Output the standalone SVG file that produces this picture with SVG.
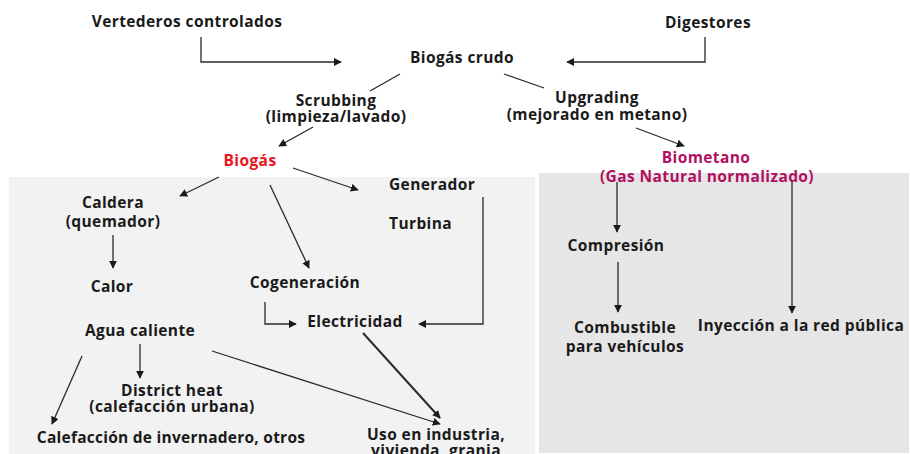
<svg xmlns="http://www.w3.org/2000/svg" width="910" height="454" viewBox="0 0 910 454">
<defs>
<marker id="ah" viewBox="0 0 10 10" refX="9" refY="5" markerWidth="8" markerHeight="8" markerUnits="userSpaceOnUse" orient="auto">
<path d="M0,0 L10,5 L0,10 z" fill="#1a1a1a"/>
</marker>
<style>
text{font-family:"Open Sans","Liberation Sans",Arial,sans-serif;font-weight:bold;font-size:15.5px;letter-spacing:0.4px;fill:#1a1a1a}
.c{text-anchor:middle}
.red{fill:#e8141b}
.pur{fill:#b0105e}
.ln{fill:none;stroke:#2a2a2a;stroke-width:1.3}
.ar{marker-end:url(#ah)}
</style>
</defs>
<rect width="910" height="454" fill="#ffffff"/>
<rect id="panel-left" x="9" y="177" width="526" height="277" fill="#f2f2f2"/>
<rect id="panel-right" x="539" y="173" width="370" height="280" fill="#e6e6e6"/>
<g id="connectors">
<polyline class="ln ar" points="201,37 201,62 341,62"/>
<polyline class="ln ar" points="705,37 705,62 567,62"/>
<line class="ln" x1="400" y1="74" x2="370" y2="91"/>
<line class="ln ar" x1="313" y1="127" x2="279" y2="146"/>
<line class="ln" x1="504" y1="74" x2="544" y2="88"/>
<line class="ln ar" x1="636" y1="128" x2="684" y2="146"/>
<line class="ln ar" x1="219" y1="177" x2="180" y2="196"/>
<line class="ln ar" x1="270" y1="185" x2="309" y2="268"/>
<line class="ln ar" x1="293" y1="168" x2="358" y2="190"/>
<polyline class="ln ar" points="483,197 483,324 419,324"/>
<line class="ln ar" x1="113" y1="235" x2="113" y2="268"/>
<polyline class="ln ar" points="265,302 265,324 296,324"/>
<line class="ln ar" x1="140" y1="344" x2="140" y2="378"/>
<line class="ln ar" x1="82" y1="356" x2="52" y2="424"/>
<line class="ln ar" x1="212" y1="351" x2="440" y2="424"/>
<line class="ln ar" x1="363" y1="333" x2="440" y2="418" style="stroke-width:2"/>
<line class="ln ar" x1="617" y1="182" x2="617" y2="232"/>
<line class="ln ar" x1="618" y1="262" x2="618" y2="312"/>
<line class="ln ar" x1="792" y1="180" x2="792" y2="313"/>
</g>
<g id="vertederos"><text x="187" y="27" class="c">Vertederos controlados</text></g>
<g id="digestores"><text x="708" y="28" class="c">Digestores</text></g>
<g id="biogas-crudo"><text x="462" y="63" class="c">Biogás crudo</text></g>
<g id="scrubbing"><text class="c"><tspan x="336" y="106">Scrubbing</tspan><tspan x="336" y="122">(limpieza/lavado)</tspan></text></g>
<g id="upgrading"><text class="c"><tspan x="597" y="103">Upgrading</tspan><tspan x="597" y="120">(mejorado en metano)</tspan></text></g>
<g id="biogas"><text x="250" y="166" class="c red">Biogás</text></g>
<g id="biometano"><text class="c pur"><tspan x="706" y="163">Biometano</tspan><tspan x="707" y="182">(Gas Natural normalizado)</tspan></text></g>
<g id="generador"><text x="389" y="190">Generador</text></g>
<g id="turbina"><text x="389" y="229">Turbina</text></g>
<g id="caldera"><text class="c"><tspan x="113" y="208">Caldera</tspan><tspan x="113" y="227">(quemador)</tspan></text></g>
<g id="calor"><text x="112" y="292" class="c">Calor</text></g>
<g id="cogeneracion"><text x="305" y="288" class="c">Cogeneración</text></g>
<g id="electricidad"><text x="355" y="327" class="c">Electricidad</text></g>
<g id="agua-caliente"><text x="140" y="336" class="c">Agua caliente</text></g>
<g id="district-heat"><text class="c"><tspan x="172" y="396">District heat</tspan><tspan x="172" y="412">(calefacción urbana)</tspan></text></g>
<g id="calefaccion"><text x="171" y="443" class="c" style="letter-spacing:0.25px">Calefacción de invernadero, otros</text></g>
<g id="uso"><text class="c"><tspan x="436" y="440">Uso en industria,</tspan><tspan x="436" y="456">vivienda, granja</tspan></text></g>
<g id="compresion"><text x="616" y="251" class="c">Compresión</text></g>
<g id="combustible"><text class="c"><tspan x="625" y="333">Combustible</tspan><tspan x="625" y="352">para vehículos</tspan></text></g>
<g id="inyeccion"><text x="801" y="331" class="c">Inyección a la red pública</text></g>
</svg>
